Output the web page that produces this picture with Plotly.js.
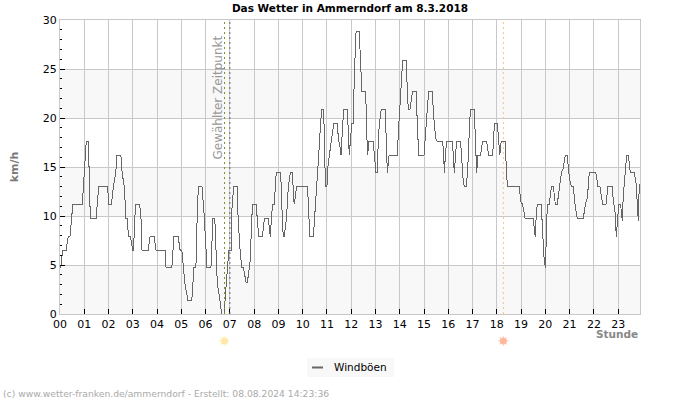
<!DOCTYPE html>
<html><head><meta charset="utf-8">
<script src="https://cdn.plot.ly/plotly-3.0.1.min.js"></script>
<style>html,body{margin:0;padding:0;background:#fff}
.scatterlayer path.js-line{shape-rendering:crispEdges}</style></head>
<body><div id="chart" style="width:700px;height:400px"></div>
<script>
const hours=[0,0.04,0.11,0.25,0.34,0.41,0.48,0.52,0.92,0.97,1.01,1.08,1.17,1.21,1.24,1.25,1.5,1.53,1.6,1.92,1.96,2.01,2.08,2.12,2.2,2.3,2.34,2.51,2.56,2.65,2.72,2.79,2.81,2.9,3,3.03,3.08,3.12,3.28,3.34,3.38,3.63,3.71,3.88,3.96,4.28,4.33,4.37,4.61,4.69,4.87,4.95,5.02,5.06,5.14,5.27,5.43,5.52,5.6,5.65,5.7,5.85,5.93,6.01,6.05,6.22,6.26,6.3,6.38,6.43,6.48,6.59,6.66,6.76,6.81,6.9,6.96,7.05,7.09,7.16,7.3,7.34,7.42,7.49,7.56,7.67,7.72,7.81,7.84,7.9,7.94,8.08,8.13,8.19,8.34,8.42,8.58,8.67,8.71,8.76,8.83,8.91,9.08,9.12,9.16,9.2,9.24,9.33,9.41,9.49,9.57,9.61,9.65,9.7,9.75,10.19,10.23,10.27,10.3,10.44,10.49,10.56,10.62,10.66,10.71,10.78,10.85,10.89,10.92,10.96,11,11.04,11.1,11.19,11.28,11.43,11.47,11.54,11.58,11.6,11.65,11.69,11.84,11.88,11.92,11.96,12.02,12.09,12.1,12.16,12.2,12.33,12.36,12.4,12.44,12.58,12.62,12.65,12.68,12.72,12.9,12.94,13,13.02,13.08,13.12,13.19,13.24,13.4,13.45,13.49,13.56,13.9,13.94,13.98,14.04,14.12,14.26,14.3,14.35,14.42,14.48,14.53,14.67,14.72,14.78,15,15.05,15.11,15.19,15.34,15.4,15.48,15.55,15.77,15.81,15.84,15.88,15.93,16.17,16.22,16.25,16.3,16.34,16.5,16.55,16.59,16.66,16.74,16.8,16.84,16.91,17.07,17.11,17.17,17.22,17.33,17.41,17.58,17.66,17.83,17.9,18.02,18.08,18.12,18.18,18.35,18.4,18.45,18.93,18.98,19.06,19.17,19.5,19.56,19.58,19.63,19.67,19.83,19.89,19.94,20,20.04,20.08,20.16,20.25,20.33,20.41,20.49,20.57,20.66,20.74,20.82,20.9,20.99,21.07,21.15,21.23,21.32,21.56,21.65,21.73,21.81,22.08,22.17,22.25,22.36,22.5,22.58,22.75,22.8,22.88,22.92,22.98,23.02,23.1,23.17,23.21,23.3,23.35,23.42,23.5,23.66,23.75,23.79,23.83,23.87,23.9];
const gusts=[4.7,4.9,6.5,6.5,7.9,7.9,9.7,11.2,11.2,13,14.4,17.6,17.6,14.4,11.2,9.7,9.7,11.2,13,13,13,11.2,11.2,11.2,13,14.4,16.2,16.2,14.4,13,9.7,9.7,7.9,7.9,6.5,6.5,9.7,11.2,11.2,9.7,6.5,6.5,7.9,7.9,6.5,6.5,6.5,4.7,4.7,7.9,7.9,6.5,6.5,5.5,3.2,1.4,1.4,4.7,4.7,9.7,13,13,10.5,7,4.7,4.7,7,9.7,9.7,6,3.2,1.4,0,0,2,4.7,6.5,6.5,11,13,13,9.7,6.5,4.7,4.7,3.2,3.2,4.7,5.5,9.7,11.2,11.2,9.7,7.9,7.9,9.7,9.7,7.9,9.7,11.2,11.2,14.4,14.4,13,9.7,7.9,7.9,9.7,13,14.4,14.4,13,11.2,12,13,13,11.6,9.1,7.9,7.9,9.7,11.5,14,16.2,18.3,20.9,20.9,18.8,14.9,13,13,15,16.2,17.8,19.4,19.4,17.9,17,16.2,17.2,19.1,20.9,20.9,18.4,16.2,17.5,19.4,19.4,21.8,26.4,28.8,28.8,27.1,24.2,22.7,22.7,21,17.8,16.2,17.6,17.6,16.6,15.2,14.4,14.4,18.3,20,20.9,20.9,16,14.4,16.2,16.2,18.4,20.1,23.5,25.9,25.9,23.5,20.9,20.9,22.1,22.7,22.7,20,16.2,16.2,18.4,20.1,22.7,22.7,20.1,17.9,17.6,17.6,16.2,14.4,16.2,17.6,17.6,15.9,14.4,16.2,17.6,17.6,16.2,14.2,13,13,14.7,17.2,20.9,20.9,17.4,14.4,16.2,16.2,17.6,17.6,16.2,16.2,19.4,19.4,17.6,16.2,17.6,17.6,14.2,13,13,11.5,11.2,9.7,9.7,8.4,7.9,10.3,11.2,11.2,7.5,5.9,4.7,9.4,11.2,11.2,13,13,11.2,11.2,12.8,14.4,14.9,16.2,16.2,13.9,13,13,11,9.7,9.7,11.2,11.8,14.4,14.4,13,13,11.2,11.2,13,13,11.6,10.3,7.9,9.7,11.2,11.2,9.5,12,15.4,16.2,16.2,14.4,14.4,13.2,11,9.5,13.2,13.2];
const hourLabels=["00","01","02","03","04","05","06","07","08","09","10","11","12","13","14","15","16","17","18","19","20","21","22","23"];
const hourTicks=hourLabels.map(Number);
const kmhTicks=[0,5,10,15,20,25,30];
const bands=[[0,5],[10,15],[20,25]];
const sunrise=6.78, sunset=18.27, selected=7;
const FONT='"DejaVu Sans", sans-serif';
const PW=580, PH=294, PL=60, PB=314;
const px=x=>(x-PL)/PW, py=y=>(PB-y)/PH;
const shapes=bands.map(b=>({type:'rect',layer:'below',xref:'paper',x0:0,x1:1,yref:'y',y0:b[0],y1:b[1],fillcolor:'#f8f8f8',line:{width:0}}));
const vline=(x,color)=>({type:'line',xref:'x',x0:x,x1:x,yref:'paper',y0:0,y1:1,layer:'above',line:{color:color,width:1,dash:'2px,3px'}});
shapes.push(vline(sunrise,'#8a8a1e'),vline(selected,'#666666'),vline(sunset,'#f5c48a'));
shapes.push({type:'rect',xref:'paper',yref:'paper',x0:px(307),x1:px(394),y0:py(377),y1:py(358),fillcolor:'#f8f8f8',line:{width:0},layer:'below'});
shapes.push({type:'line',xref:'paper',yref:'paper',x0:px(312),x1:px(323),y0:py(367.5),y1:py(367.5),line:{color:'#666666',width:2},layer:'above'});
const sunDisc=(x,c)=>({type:'circle',xref:'x',xsizemode:'pixel',xanchor:x,x0:-3.5,x1:3.5,yref:'paper',ysizemode:'pixel',yanchor:py(341),y0:-3.5,y1:3.5,fillcolor:c,line:{width:0},layer:'above'});
shapes.push(sunDisc(sunrise,'#ffe9a8'),sunDisc(sunset,'#ffb8a0'));
const footer="(c) www.wetter-franken.de/ammerndorf - Erstellt: 08.08.2024 14:23:36";
const sun=(x,c)=>({xref:'x',x:x,yref:'paper',y:0,yanchor:'middle',yshift:-27,text:'\u2600',showarrow:false,font:{family:FONT,size:14,color:c}});
const layout={
  width:700,height:400,paper_bgcolor:'#fff',plot_bgcolor:'#fff',
  margin:{l:60,r:60,t:20,b:86},
  font:{family:FONT,size:11,color:'#000'},
  title:{text:'<b>Das Wetter in Ammerndorf am 8.3.2018</b>',font:{family:FONT,size:10.5,color:'#000'},x:0.5,xanchor:'center',y:0.98,yanchor:'middle',yref:'container'},
  xaxis:{range:[0,23.9],tickvals:hourTicks,ticktext:hourLabels,ticks:'inside',ticklen:5,tickcolor:'#000',tickwidth:1,
    showgrid:true,gridcolor:'#c8c8c8',gridwidth:1,zeroline:false,showline:true,linecolor:'#c8c8c8',mirror:true,tickangle:0,tickfont:{size:11}},
  yaxis:{range:[0,30],tickvals:kmhTicks,ticks:'inside',ticklen:5,tickcolor:'#000',tickwidth:1,
    minor:{dtick:1,ticks:'inside',ticklen:2,tickcolor:'#000',showgrid:false},
    showgrid:true,gridcolor:'#c8c8c8',gridwidth:1,zeroline:false,showline:true,linecolor:'#c8c8c8',mirror:true,tickfont:{size:11},
    title:{text:'<b>km/h</b>',font:{family:FONT,size:11,color:'#777'},standoff:21}},
  shapes:shapes,
  showlegend:false,
  annotations:[
    {xref:'x',x:6.78,xanchor:'right',xshift:2,yref:'paper',y:py(162),yanchor:'bottom',text:'Gewählter Zeitpunkt',textangle:-90,showarrow:false,font:{family:FONT,size:12,color:'#999'}},
    {xref:'paper',x:1,xanchor:'right',yref:'paper',y:0,yshift:-20,yanchor:'middle',text:'<b>Stunde</b>',showarrow:false,font:{family:FONT,size:10.5,color:'#888'}},
    sun(sunrise,'#ffe9a8'),sun(sunset,'#ffb8a0'),
    {xref:'paper',x:px(332),xanchor:'left',yref:'paper',y:py(367),yanchor:'middle',text:'Windböen',showarrow:false,font:{family:FONT,size:10.5,color:'#000'}},
    {xref:'paper',x:0,xshift:-59,xanchor:'left',yref:'paper',y:0,yshift:-79,yanchor:'middle',text:footer,showarrow:false,font:{family:FONT,size:9.2,color:'#aaa'}}
  ]
};
Plotly.newPlot('chart',[{type:'scatter',mode:'lines',name:'Windböen',x:hours,y:gusts,line:{color:'#666666',width:1,shape:'linear'}}],layout,{displayModeBar:false,staticPlot:true});
</script></body></html>
